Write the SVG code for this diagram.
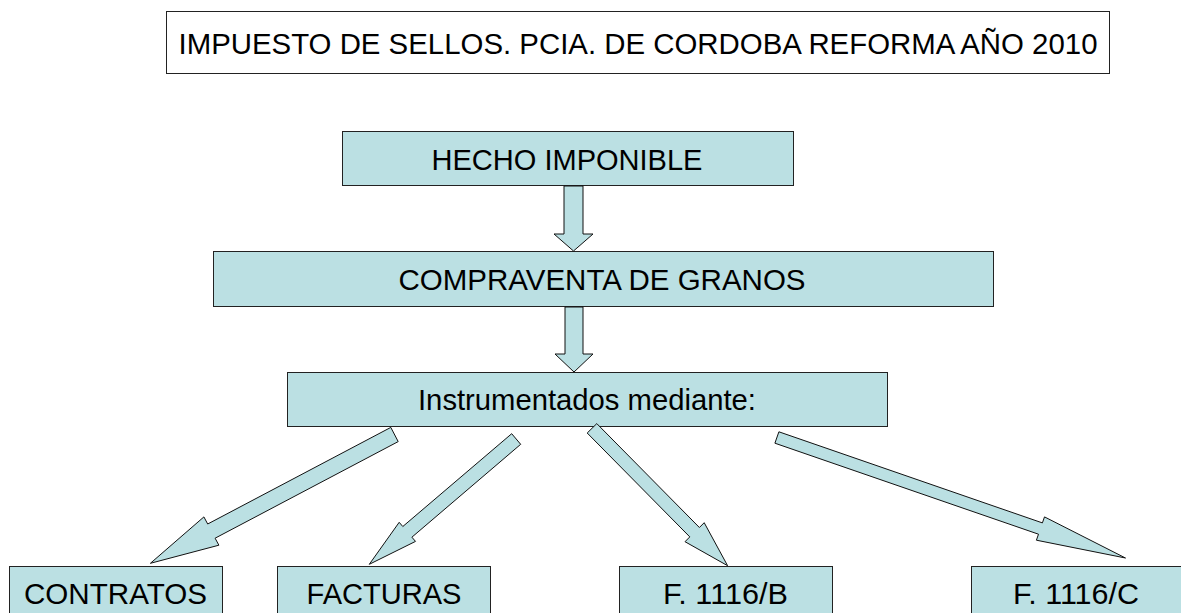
<svg xmlns="http://www.w3.org/2000/svg" width="1181" height="613" viewBox="0 0 1181 613">
<style>
.box{fill:#BBE0E3;stroke:#222;stroke-width:1}
.title{fill:#fff;stroke:#222;stroke-width:1}
.arr{fill:#BBE0E3;stroke:#111;stroke-width:1;stroke-linejoin:miter}
text{font-family:"Liberation Sans",Arial,sans-serif;font-size:30px;fill:#000;text-anchor:middle}
</style>
<rect width="1181" height="613" fill="#fff"/>
<g id="title">
<rect class="title" x="166.5" y="11.5" width="943" height="62"/>
<text x="638" y="53.5" textLength="919" lengthAdjust="spacingAndGlyphs">IMPUESTO DE SELLOS. PCIA. DE CORDOBA REFORMA AÑO 2010</text>
</g>
<g id="hecho">
<rect class="box" x="342.5" y="131.5" width="451" height="54"/>
<text x="567" y="170" textLength="271" lengthAdjust="spacingAndGlyphs">HECHO IMPONIBLE</text>
</g>
<g id="compraventa">
<rect class="box" x="213.5" y="251.5" width="780" height="55"/>
<text x="602" y="290" textLength="407" lengthAdjust="spacingAndGlyphs">COMPRAVENTA DE GRANOS</text>
</g>
<g id="instrumentados">
<rect class="box" x="287.5" y="372.5" width="600" height="54"/>
<text x="587" y="410" textLength="338" lengthAdjust="spacingAndGlyphs">Instrumentados mediante:</text>
</g>
<g id="contratos">
<rect class="box" x="9.5" y="566.5" width="213" height="60"/>
<text x="115.5" y="604" textLength="183" lengthAdjust="spacingAndGlyphs">CONTRATOS</text>
</g>
<g id="facturas">
<rect class="box" x="277.5" y="566.5" width="213" height="60"/>
<text x="384" y="604" textLength="155" lengthAdjust="spacingAndGlyphs">FACTURAS</text>
</g>
<g id="f1116b">
<rect class="box" x="619.5" y="566.5" width="213" height="60"/>
<text x="725.5" y="604" textLength="125" lengthAdjust="spacingAndGlyphs">F. 1116/B</text>
</g>
<g id="f1116c">
<rect class="box" x="971.5" y="566.5" width="213" height="60"/>
<text x="1076" y="604" textLength="126" lengthAdjust="spacingAndGlyphs">F. 1116/C</text>
</g>
<g id="connectors">
<polygon class="arr" points="564,186 583,186 583,234 593,234 573.5,251 554,234 564,234"/>
<polygon class="arr" points="565,307 583,307 583,354 593,354 574,372 555,354 565,354"/>
<polygon class="arr" points="390.8,427.4 207.7,524 203.9,516.9 150.4,563.3 218.9,545.2 215.1,538.2 398.2,441.6"/>
<polygon class="arr" points="511.7,433.7 402.8,526.5 399.2,522.3 369.3,564.3 415.5,541.4 411.9,537.2 520.7,444.3"/>
<polygon class="arr" points="596.8,423.6 699.4,527.5 704.2,522.7 727.6,565.7 685,541.7 689.8,536.9 587.2,433"/>
<polygon class="arr" points="778.9,431.8 1042.4,522.9 1044.5,516.9 1125.5,558 1036.4,540.2 1038.5,534.2 774.9,443.2"/>
</g>
</svg>
